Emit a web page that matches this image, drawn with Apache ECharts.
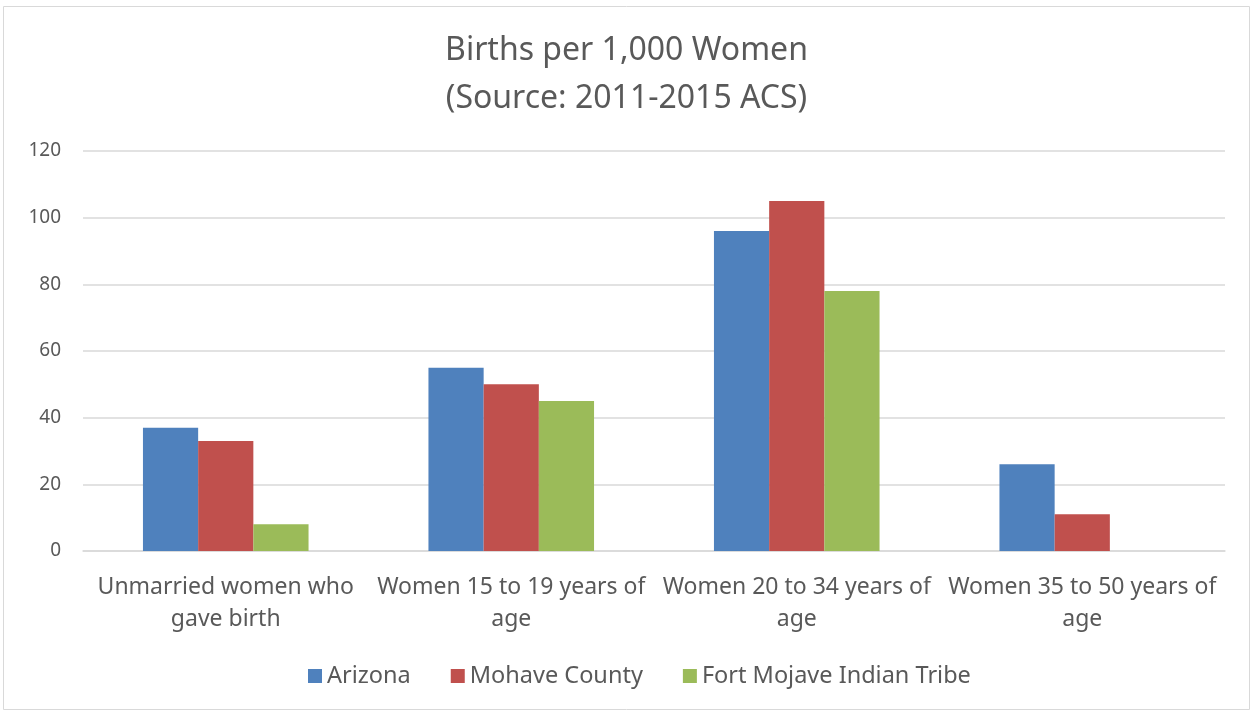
<!DOCTYPE html>
<html lang="en">

<head>
  <meta charset="UTF-8">
  <title>Births per 1,000 Women</title>
  <style>
    html, body { margin: 0; padding: 0; background: #fff; }
    #chart { width: 1253px; height: 711px; }
  </style>
</head>

<body>
  <div id="chart"></div>
  <script src="https://cdn.jsdelivr.net/npm/echarts@6.0.0/dist/echarts.min.js"></script>
  <script>
    // categories and values
    const categories = [
      'Unmarried women who\ngave birth',
      'Women 15 to 19 years of\nage',
      'Women 20 to 34 years of\nage',
      'Women 35 to 50 years of\nage'
    ]
    const arizona = [37, 55, 96, 26]
    const mohave = [33, 50, 105, 11]
    const fortMojave = [8, 45, 78, 0]

    const font = '"Noto Sans", sans-serif'
    const textColor = '#595959'

    const chart = echarts.init(document.getElementById('chart'))

    const makeSeries = (name, data, color) => ({
      name,
      type: 'bar',
      data,
      barGap: '0%',
      barCategoryGap: '42%',
      itemStyle: { color },
      animation: false
    })

    chart.setOption({
      animation: false,
      graphic: [{
        type: 'rect',
        shape: { x: 3.5, y: 6.5, width: 1246, height: 703 },
        style: { fill: 'none', stroke: '#d9d9d9', lineWidth: 1 },
        silent: true
      }],
      title: {
        text: 'Births per 1,000 Women\n(Source: 2011-2015 ACS)',
        left: 'center',
        top: 22,
        textStyle: {
          fontFamily: font,
          fontSize: 32,
          fontWeight: 'normal',
          color: textColor,
          lineHeight: 48
        }
      },
      legend: {
        bottom: 18,
        left: 303,
        itemWidth: 14,
        itemHeight: 14,
        itemGap: 40,
        icon: 'rect',
        textStyle: { fontFamily: font, fontSize: 23.5, color: textColor },
        data: ['Arizona', 'Mohave County', 'Fort Mojave Indian Tribe']
      },
      grid: { left: 83, right: 28, top: 151, bottom: 160, containLabel: false },
      xAxis: {
        type: 'category',
        data: categories,
        axisLine: { lineStyle: { color: '#d9d9d9', width: 1.5 } },
        axisTick: { show: false },
        axisLabel: {
          fontFamily: font,
          fontSize: 23,
          color: textColor,
          lineHeight: 32,
          margin: 20,
          interval: 0
        }
      },
      yAxis: {
        type: 'value',
        min: 0,
        max: 120,
        interval: 20,
        axisLine: { show: false },
        axisTick: { show: false },
        splitLine: { lineStyle: { color: '#d9d9d9', width: 1.5 } },
        axisLabel: { fontFamily: font, fontSize: 19, color: textColor, margin: 22 }
      },
      series: [
        makeSeries('Arizona', arizona, '#4f81bd'),
        makeSeries('Mohave County', mohave, '#c0504d'),
        makeSeries('Fort Mojave Indian Tribe', fortMojave, '#9bbb59')
      ]
    })
  </script>
</body>

</html>
